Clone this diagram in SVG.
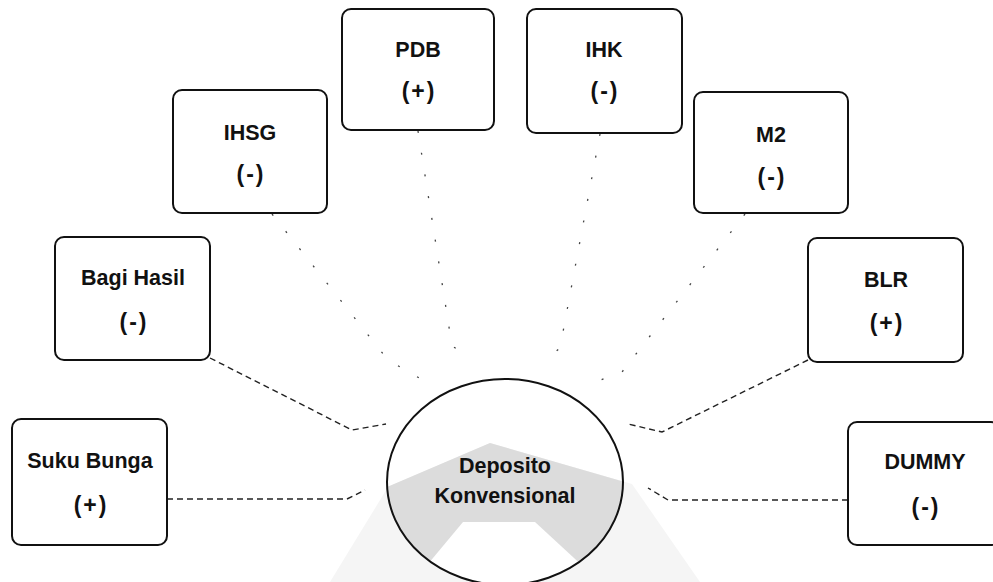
<svg xmlns="http://www.w3.org/2000/svg" width="993" height="582" viewBox="0 0 993 582">
<style>
.box{fill:#fff;stroke:#111;stroke-width:2}
.lbl{font-family:"Liberation Sans",Arial,sans-serif;font-weight:bold;font-size:21.5px;fill:#111;text-anchor:middle}
.sign{font-family:"Liberation Sans",Arial,sans-serif;font-weight:bold;font-size:23px;fill:#111;text-anchor:middle;letter-spacing:2px}
.con{fill:none;stroke:#222;stroke-width:1.4;stroke-dasharray:6 4}
.faint{fill:none;stroke:#444;stroke-width:1.3;stroke-dasharray:2 20}
</style>
<defs>
<clipPath id="ellclip"><ellipse cx="505" cy="482" rx="118" ry="103"/></clipPath>
</defs>
<rect width="993" height="582" fill="#fff"/>
<g id="watermark">
<polygon points="330,582 388,487 490,443 632,484 700,582" fill="#f5f5f5"/>
<g clip-path="url(#ellclip)">
<polygon points="330,582 380,490 490,443 632,484 700,582" fill="#dcdcdc"/>
<polygon points="463,522 535,522 600,582 413,582" fill="#fff"/>
</g>
</g>
<g id="connectors">
<polyline class="con" points="167,499 347,499 365,490"/>
<polyline class="con" points="210,358 352,430 386,424"/>
<polyline class="faint" points="272,214 388,360 428,383"/>
<polyline class="faint" points="418,131 452,346 472,358"/>
<polyline class="faint" points="600,134 560,348 544,361"/>
<polyline class="faint" points="745,214 622,372 590,384"/>
<polyline class="con" points="808,360 662,432 628,424"/>
<polyline class="con" points="848,500 668,500 648,488"/>
</g>
<g id="node-deposito">
<ellipse cx="505" cy="482" rx="118" ry="103" fill="none" stroke="#111" stroke-width="2"/>
<text class="lbl" x="505" y="473">Deposito</text>
<text class="lbl" x="505" y="503">Konvensional</text>
</g>
<g id="node-pdb">
<rect class="box" x="342" y="9" width="152" height="121" rx="9"/>
<text class="lbl" x="418" y="57">PDB</text>
<text class="sign" x="419" y="99">(+)</text>
</g>
<g id="node-ihk">
<rect class="box" x="527" y="9" width="155" height="124" rx="9"/>
<text class="lbl" x="604" y="57">IHK</text>
<text class="sign" x="605" y="99">(-)</text>
</g>
<g id="node-ihsg">
<rect class="box" x="173" y="90" width="154" height="123" rx="9"/>
<text class="lbl" x="250" y="140">IHSG</text>
<text class="sign" x="251" y="182">(-)</text>
</g>
<g id="node-m2">
<rect class="box" x="694" y="92" width="154" height="121" rx="9"/>
<text class="lbl" x="771" y="142">M2</text>
<text class="sign" x="772" y="185">(-)</text>
</g>
<g id="node-bagi-hasil">
<rect class="box" x="55" y="237" width="155" height="123" rx="9"/>
<text class="lbl" x="133" y="285">Bagi Hasil</text>
<text class="sign" x="134" y="330">(-)</text>
</g>
<g id="node-blr">
<rect class="box" x="808" y="238" width="155" height="124" rx="9"/>
<text class="lbl" x="886" y="287">BLR</text>
<text class="sign" x="887" y="331">(+)</text>
</g>
<g id="node-suku-bunga">
<rect class="box" x="12" y="419" width="155" height="126" rx="9"/>
<text class="lbl" x="90" y="468">Suku Bunga</text>
<text class="sign" x="91" y="513">(+)</text>
</g>
<g id="node-dummy">
<rect class="box" x="848" y="422" width="152" height="123" rx="9"/>
<text class="lbl" x="925" y="469">DUMMY</text>
<text class="sign" x="926" y="515">(-)</text>
</g>
</svg>
